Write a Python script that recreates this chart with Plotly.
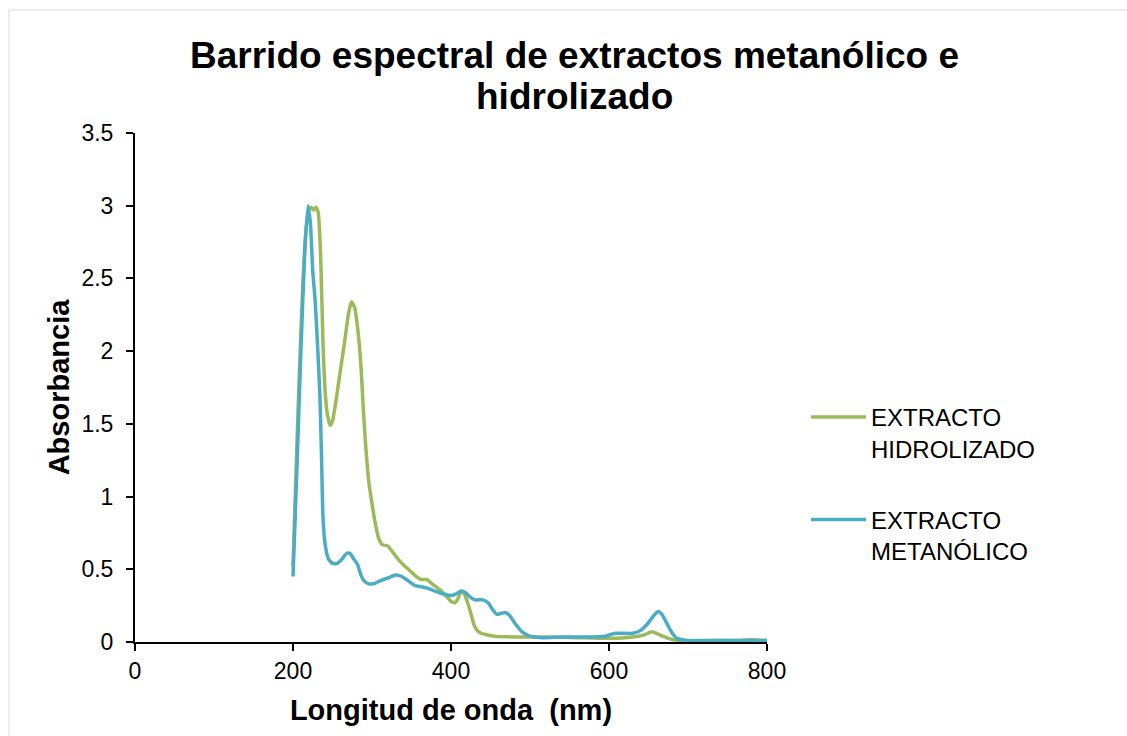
import plotly.graph_objects as go

# ---- data ----
hid_x = [200, 204, 208, 212, 216, 220, 223, 226, 229, 232, 235, 238, 241, 244, 247, 250, 255, 260, 265,
         270, 274, 278, 282, 286, 289, 292, 296, 300, 304, 308, 313, 320, 326, 333, 340, 348, 356, 362,
         369, 376, 386, 395, 400, 405, 409, 413, 417, 421, 425, 429, 433, 438, 445, 455, 480, 520, 560,
         600, 630, 645, 654, 660, 668, 678, 690, 720, 760, 780, 800]
hid_y = [0.52, 1.20, 1.85, 2.40, 2.80, 2.97, 2.99, 2.97, 2.99, 2.95, 2.65, 2.05, 1.70, 1.55, 1.49, 1.52, 1.68, 1.87, 2.05,
         2.25, 2.34, 2.30, 2.15, 1.90, 1.60, 1.35, 1.10, 0.95, 0.82, 0.72, 0.67, 0.66, 0.62, 0.57, 0.53, 0.49, 0.45, 0.43,
         0.43, 0.40, 0.36, 0.31, 0.28, 0.27, 0.30, 0.35, 0.33, 0.27, 0.20, 0.12, 0.08, 0.06, 0.05, 0.04, 0.035, 0.035, 0.03,
         0.025, 0.035, 0.05, 0.07, 0.06, 0.04, 0.02, 0.01, 0.01, 0.01, 0.015, 0.01]

met_x = [200, 205, 210, 215, 219, 222, 225, 228, 231, 234, 236, 238, 241, 245, 250, 256, 262, 268, 272,
         277, 282, 286, 290, 296, 302, 310, 320, 330, 338, 346, 354, 362, 370, 380, 390, 400, 406, 413,
         418, 424, 430, 440, 447, 453, 458, 465, 470, 476, 482, 490, 500, 515, 540, 575, 595, 608, 630,
         640, 648, 655, 662, 667, 673, 680, 686, 700, 750, 800]
met_y = [0.45, 1.20, 2.00, 2.70, 3.00, 2.88, 2.55, 2.35, 2.05, 1.70, 1.30, 0.85, 0.66, 0.57, 0.54, 0.54, 0.57, 0.61, 0.61,
         0.57, 0.53, 0.46, 0.42, 0.40, 0.40, 0.42, 0.44, 0.46, 0.45, 0.42, 0.39, 0.38, 0.37, 0.35, 0.33, 0.32, 0.33, 0.35,
         0.34, 0.31, 0.29, 0.29, 0.27, 0.22, 0.19, 0.20, 0.20, 0.17, 0.12, 0.07, 0.04, 0.03, 0.035, 0.035, 0.04, 0.06, 0.06,
         0.08, 0.12, 0.17, 0.21, 0.19, 0.13, 0.06, 0.025, 0.01, 0.01, 0.01]

x_ticks = [0, 200, 400, 600, 800]
y_ticks = [0, 0.5, 1, 1.5, 2, 2.5, 3, 3.5]
y_tick_text = ["0", "0.5", "1", "1.5", "2", "2.5", "3", "3.5"]

title_line1 = "Barrido espectral de extractos metanólico e"
title_line2 = "hidrolizado"

FONT = "Liberation Sans, Arial, sans-serif"
GREEN = "#9BBB59"
BLUE = "#4BACC6"

fig = go.Figure()
fig.add_trace(go.Scatter(x=hid_x, y=hid_y, mode="lines", name="EXTRACTO<br>HIDROLIZADO",
                         legendgroup="a",
                         line=dict(color=GREEN, width=3.5, shape="spline", smoothing=0.5)))
fig.add_trace(go.Scatter(x=met_x, y=met_y, mode="lines", name="EXTRACTO<br>METANÓLICO",
                         legendgroup="b",
                         line=dict(color=BLUE, width=3.5, shape="spline", smoothing=0.5)))

L, R, T, B = 135, 360, 133, 94
W, H = 1127, 736
pw, ph = W - L - R, H - T - B

def px(xp):
    return (xp - L) / pw

def py(yp):
    return (H - B - yp) / ph

fig.update_layout(
    width=W, height=H,
    margin=dict(l=L, r=R, t=T, b=B),
    paper_bgcolor="white", plot_bgcolor="white",
    font=dict(family=FONT, color="black", size=23),
    showlegend=True,
    legend=dict(x=px(806), y=py(395), xanchor="left", yanchor="top",
                font=dict(size=24, family=FONT, color="black"),
                valign="top", tracegroupgap=37, itemwidth=55,
                bgcolor="rgba(0,0,0,0)"),
    xaxis=dict(range=[0, 800], tickvals=x_ticks, ticks="outside", ticklen=7, tickwidth=1.5,
               tickcolor="black", showline=True, linecolor="black", linewidth=2,
               showgrid=False, zeroline=False, tickfont=dict(size=23),
               title=dict(text="<b>Longitud de onda \u00a0(nm)</b>", font=dict(size=29), standoff=17)),
    yaxis=dict(range=[0, 3.5], tickvals=y_ticks, ticktext=y_tick_text, ticks="outside", ticklen=7,
               tickwidth=1.5, tickcolor="black", showline=True, linecolor="black", linewidth=2,
               showgrid=False, zeroline=False, tickfont=dict(size=23), ticklabelstandoff=8,
               title=dict(text="<b>Absorbancia</b>", font=dict(size=29), standoff=3)),
    annotations=[
        dict(text="<b>" + title_line1 + "</b>", x=px(574), y=py(55), xref="paper", yref="paper",
             xanchor="center", yanchor="middle", showarrow=False, font=dict(size=37, family=FONT)),
        dict(text="<b>" + title_line2 + "</b>", x=px(574), y=py(97), xref="paper", yref="paper",
             xanchor="center", yanchor="middle", showarrow=False, font=dict(size=37, family=FONT)),
    ],
    shapes=[dict(type="rect", xref="paper", yref="paper", x0=px(9), x1=px(1140), y0=py(750), y1=py(10),
                 line=dict(color="#D9D9D9", width=1), fillcolor="rgba(0,0,0,0)", layer="below")],
)

fig.write_html("out.html")
